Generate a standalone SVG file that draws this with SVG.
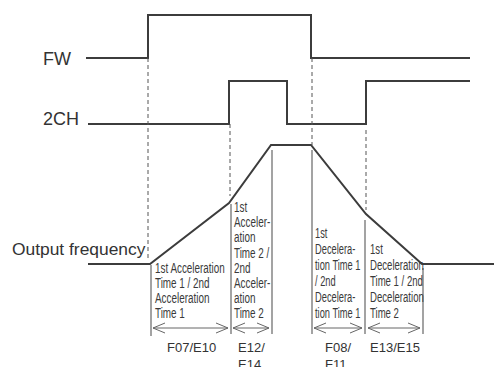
<svg xmlns="http://www.w3.org/2000/svg" width="494" height="367" viewBox="0 0 494 367">
<style>
.sig{fill:none;stroke:#3c3c3c;stroke-width:2;stroke-linejoin:miter}
.dash{fill:none;stroke:#555;stroke-width:1;stroke-dasharray:4 3}
.vl{fill:none;stroke:#666;stroke-width:1.2}
.arr{fill:none;stroke:#666;stroke-width:1;marker-start:url(#ah);marker-end:url(#ah)}
.lbl{font-family:"Liberation Sans",Arial,sans-serif;font-size:18px;fill:#333}
.note{font-family:"Liberation Sans",Arial,sans-serif;font-size:15px;fill:#3a3a3a}
.code{font-family:"Liberation Sans",Arial,sans-serif;font-size:13px;fill:#333}
</style>
<defs>
<marker id="ah" viewBox="-13 -6 14 12" markerWidth="14" markerHeight="12" refX="0" refY="0" markerUnits="userSpaceOnUse" orient="auto-start-reverse">
<path d="M-12,-5 L0,0 L-12,5" fill="none" stroke="#666" stroke-width="1"/>
</marker>
</defs>
<rect width="494" height="367" fill="#fff"/>

<g id="FW">
<text class="lbl" x="43" y="65">FW</text>
<path class="sig" d="M86,58 H148 V15 H311 V58 H470"/>
</g>

<g id="2CH">
<text class="lbl" x="43" y="124.5">2CH</text>
<path class="sig" d="M88,124 H229 V81 H287 V124 H366 V81 H470"/>
</g>

<g id="output-frequency">
<text class="lbl" x="12" y="255" style="font-size:17.4px">Output frequency</text>
<path class="sig" d="M88,264 H150 L229,203 L271,145 H311 L366,214 L422,264 H494"/>
</g>

<g id="connectors">
<path class="dash" d="M148,58 V258"/>
<path class="dash" d="M230,124 V196"/>
<path class="dash" d="M312,58 V145"/>
<path class="dash" d="M366,130 V210"/>
<path class="vl" d="M151,265 V336"/>
<path class="vl" d="M231,204 V334"/>
<path class="vl" d="M272,150 V334"/>
<path class="vl" d="M312,150 V334"/>
<path class="vl" d="M365,220 V334"/>
<path class="vl" d="M423,268 V334"/>
<path class="arr" d="M153,328 H228"/>
<path class="arr" d="M233,328 H269"/>
<path class="arr" d="M314,328 H362"/>
<path class="arr" d="M368,328 H420"/>
</g>

<g id="seg1">
<g transform="translate(155 0) scale(0.66 1)">
<text class="note"><tspan x="0" y="273">1st Acceleration</tspan><tspan x="0" y="288">Time 1 / 2nd</tspan><tspan x="0" y="303">Acceleration</tspan><tspan x="0" y="318">Time 1</tspan></text>
</g>
<text class="code" x="167" y="352">F07/E10</text>
</g>

<g id="seg2">
<g transform="translate(234 0) scale(0.66 1)">
<text class="note"><tspan x="0" y="212">1st</tspan><tspan x="0" y="227">Acceler-</tspan><tspan x="0" y="242.5">ation</tspan><tspan x="0" y="258">Time 2 /</tspan><tspan x="0" y="273">2nd</tspan><tspan x="0" y="288">Acceler-</tspan><tspan x="0" y="303">ation</tspan><tspan x="0" y="318">Time 2</tspan></text>
</g>
<text class="code" x="238" y="352">E12/</text>
<text class="code" x="238" y="369">E14</text>
</g>

<g id="seg3">
<g transform="translate(315 0) scale(0.62 1)">
<text class="note"><tspan x="0" y="238">1st</tspan><tspan x="0" y="254">Decelera-</tspan><tspan x="0" y="270">tion Time 1</tspan><tspan x="0" y="286">/ 2nd</tspan><tspan x="0" y="302">Decelera-</tspan><tspan x="0" y="318">tion Time 1</tspan></text>
</g>
<text class="code" x="325" y="352">F08/</text>
<text class="code" x="325" y="369">F11</text>
</g>

<g id="seg4">
<g transform="translate(370 0) scale(0.64 1)">
<text class="note"><tspan x="0" y="254">1st</tspan><tspan x="0" y="270">Deceleration</tspan><tspan x="0" y="286">Time 1 / 2nd</tspan><tspan x="0" y="302">Deceleration</tspan><tspan x="0" y="318">Time 2</tspan></text>
</g>
<text class="code" x="370" y="352">E13/E15</text>
</g>
</svg>
